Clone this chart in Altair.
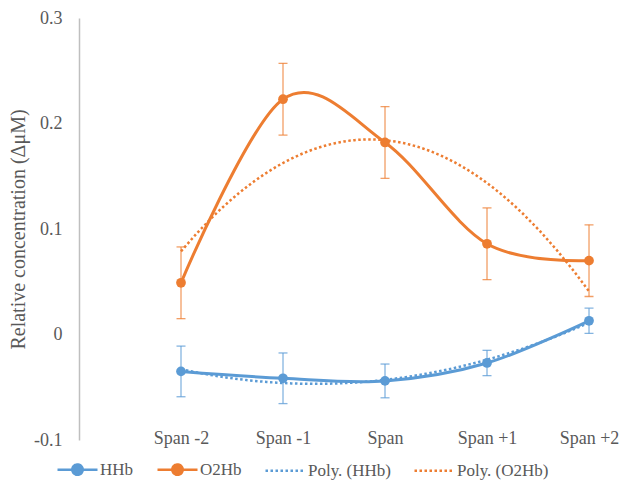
import json
import altair as alt
import pandas as pd

categories = ["Span -2", "Span -1", "Span", "Span +1", "Span +2"]
hhb_mean = [-0.035, -0.0415, -0.044, -0.027, 0.013]
hhb_err = [0.024, 0.024, 0.016, 0.012, 0.012]
o2hb_mean = [0.049, 0.223, 0.182, 0.086, 0.070]
o2hb_err = [0.034, 0.034, 0.034, 0.034, 0.034]
legend_names = ["HHb", "O2Hb", "Poly. (HHb)", "Poly. (O2Hb)"]
colors = ["#5B9BD5", "#ED7D31", "#5B9BD5", "#ED7D31"]
y_ticks = [-0.1, 0, 0.1, 0.2, 0.3]

rows = []
for name, means, errs in [("HHb", hhb_mean, hhb_err), ("O2Hb", o2hb_mean, o2hb_err)]:
    for i, (m, e) in enumerate(zip(means, errs)):
        rows.append({"series": name, "xi": i, "value": m, "lo": m - e, "hi": m + e})
df = pd.DataFrame(rows)

FONT = "'Times New Roman', 'Liberation Serif', serif"
TXT = "#595959"

xscale = alt.Scale(domain=[-1, 4.294], nice=False, zero=False)
yscale = alt.Scale(domain=[-0.1, 0.3], nice=False, zero=False)
# plot colour scale: same names, different order (so it is not merged with the legend scales)
plot_order = [legend_names[0], legend_names[2], legend_names[1], legend_names[3]]
cscale = alt.Scale(domain=plot_order, range=[colors[0], colors[2], colors[1], colors[3]])

x_axis = alt.Axis(values=[0, 1, 2, 3, 4], labelExpr=f"{json.dumps(categories)}[datum.value]",
                  title=None, domain=False, ticks=False, grid=False, labelPadding=-2,
                  labelBaseline="middle", labelFontSize=18, labelColor=TXT, labelFont=FONT,
                  labelOverlap=False, labelFlush=False)
y_axis = alt.Axis(values=y_ticks, labelExpr="'' + datum.value", title="Relative concentration (ΔμM)",
                  domain=True, domainColor="#bfbfbf", domainWidth=1.5, ticks=False, grid=False,
                  labelPadding=17, labelFontSize=18, labelColor=TXT, labelFont=FONT,
                  titleX=-61, titleBaseline="middle", titleFontWeight="normal", titleFontSize=20,
                  titleColor=TXT, titleFont=FONT)

X = alt.X("xi:Q", scale=xscale, axis=x_axis)
def Y(f):
    return alt.Y(f, scale=yscale, axis=y_axis)

base = alt.Chart(df)
col_nl = alt.Color("series:N", scale=cscale, legend=None)

err_rule = base.mark_rule(strokeWidth=1.3, opacity=0.75).encode(x=X, y=Y("lo:Q"), y2="hi:Q", color=col_nl)
err_caps = base.transform_fold(["lo", "hi"], as_=["k", "v"]).mark_tick(
    orient="horizontal", size=9, thickness=1.3, opacity=0.75).encode(x=X, y=Y("v:Q"), color=col_nl)

trend = base.transform_regression("xi", "value", method="poly", order=2, groupby=["series"]).transform_calculate(
    name="'Poly. (' + datum.series + ')'").mark_line(strokeWidth=2.5, strokeDash=[2.5, 2.5]).encode(
    x=X, y=Y("value:Q"), color=alt.Color("name:N", scale=cscale, legend=None))

line = base.mark_line(interpolate="cardinal", strokeWidth=3).encode(x=X, y=Y("value:Q"), color=col_nl)
pts = base.mark_point(filled=True, size=95, opacity=1).encode(x=X, y=Y("value:Q"), color=col_nl)

p_circle = "M-1,0H1M0.26,0A0.26,0.26 0 1,1 -0.26,0A0.26,0.26 0 1,1 0.26,0Z"
p_line = "M-1,0H1"
leg = alt.Legend(title=None, orient="none", legendX=-23, legendY=430, direction="horizontal", columns=4,
                 symbolSize=1600, symbolStrokeWidth=2.5, labelFontSize=17, labelFont=FONT, labelColor=TXT,
                 columnPadding=18, labelOffset=1)
dummy = base.transform_filter("false").mark_point(filled=False, opacity=1, strokeWidth=2.5).encode(
    x=X, y=Y("value:Q"),
    stroke=alt.Stroke("series:N", scale=alt.Scale(domain=legend_names, range=colors), legend=leg),
    fill=alt.Fill("series:N", scale=alt.Scale(domain=legend_names, range=colors), legend=leg),
    shape=alt.Shape("series:N", scale=alt.Scale(domain=legend_names, range=[p_circle, p_circle, p_line, p_line]), legend=leg),
    strokeDash=alt.StrokeDash("series:N", scale=alt.Scale(domain=legend_names, range=[[1, 0], [1, 0], [2.5, 2.5], [2.5, 2.5]]), legend=leg),
)

chart = alt.layer(err_rule, err_caps, trend, line, pts, dummy).properties(
    width=540, height=422,
    autosize=alt.AutoSizeParams(type="none"),
    padding={"left": 71, "top": 10, "right": 0, "bottom": 42},
    background="white",
).configure_view(stroke=None)

chart.save("out.html", embed_options={"renderer": "svg", "actions": False})
